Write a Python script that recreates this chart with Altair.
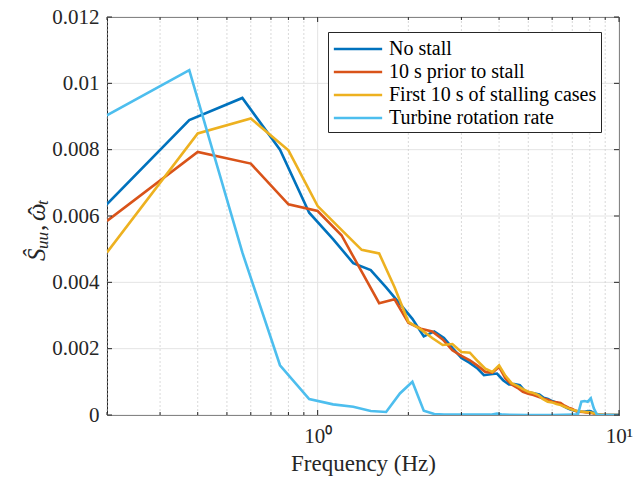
import altair as alt
import pandas as pd

# ---- spectra -------------------------------------------------------------
series_names = [
    "No stall",
    "10 s prior to stall",
    "First 10 s of stalling cases",
    "Turbine rotation rate",
]
series_colors = ["#0072BD", "#D95319", "#EDB120", "#4DBEEE"]

freq_no_stall = [0.1875, 0.375, 0.5625, 0.75, 0.9375, 1.125, 1.3125, 1.5, 1.6875, 1.875,
                 2.0625, 2.25, 2.4375, 2.625, 2.8125, 3.0, 3.1875, 3.375, 3.5625, 3.75,
                 3.9375, 4.125, 4.3125, 4.5, 4.6875, 4.875, 5.0625, 5.25, 5.4375, 5.625,
                 5.8125, 6.0, 6.1875, 6.375, 6.5625, 6.75, 6.9375, 7.125, 7.3125, 7.5,
                 7.6875, 7.875, 8.0625, 8.25, 8.4375, 8.625, 9.375, 10.0]
s_no_stall = [0.0061, 0.00889, 0.00956, 0.0080, 0.0061, 0.0053, 0.00458, 0.00437, 0.00385, 0.00335,
              0.0029, 0.00237, 0.00252, 0.00232, 0.0020, 0.00172, 0.00158, 0.00142, 0.0012, 0.00123,
              0.00125, 0.00105, 0.00092, 0.00093, 0.0009, 0.00072, 0.00068, 0.00065, 0.00062, 0.00052,
              0.00048, 0.00042, 0.00038, 0.00033, 0.00026, 0.0002, 0.00016, 0.00013, 0.00011, 0.0001,
              0.0001, 0.00012, 0.00011, 0.00006, 0.00002, 0.0, 0.0, 0.0]

freq_prior = [0.2, 0.4, 0.6, 0.8, 1.0, 1.2, 1.4, 1.6, 1.8, 2.0, 2.2, 2.4, 2.6, 2.8, 3.0, 3.2,
              3.4, 3.6, 3.8, 4.0, 4.2, 4.4, 4.6, 4.8, 5.0, 5.2, 5.4, 5.6, 5.8, 6.0, 6.2, 6.4,
              6.6, 6.8, 7.0, 7.2, 7.4, 7.6, 7.8, 8.0, 8.2, 8.4, 8.6, 9.0, 10.0]
s_prior = [0.00585, 0.00793, 0.00758, 0.00635, 0.00615, 0.00542, 0.00432, 0.00337, 0.00349, 0.00278,
           0.0026, 0.00252, 0.00228, 0.00195, 0.00178, 0.00165, 0.00148, 0.0013, 0.00128, 0.00145,
           0.0011, 0.00092, 0.00082, 0.0007, 0.00064, 0.0006, 0.00055, 0.0005, 0.00046, 0.0004,
           0.00038, 0.00036, 0.00028, 0.00022, 0.00018, 0.00012, 0.0001, 0.00009, 0.00008, 0.00007,
           0.00005, 0.00003, 0.00001, 0.0, 0.0]

freq_first = [0.2, 0.4, 0.6, 0.8, 1.0, 1.2, 1.4, 1.6, 1.8, 2.0, 2.2, 2.4, 2.6, 2.8, 3.0, 3.2,
              3.4, 3.6, 3.8, 4.0, 4.2, 4.4, 4.6, 4.8, 5.0, 5.2, 5.4, 5.6, 5.8, 6.0, 6.2, 6.4,
              6.6, 6.8, 7.0, 7.2, 7.6, 8.0, 8.4, 8.6, 9.0, 10.0]
s_first = [0.0049, 0.00849, 0.00894, 0.00798, 0.0063, 0.00558, 0.00498, 0.00487, 0.00385, 0.00281,
           0.00258, 0.00232, 0.00211, 0.00214, 0.0019, 0.00188, 0.00162, 0.0014, 0.0013, 0.0015,
           0.00118, 0.00096, 0.00088, 0.00078, 0.0007, 0.00066, 0.0006, 0.00048, 0.0004, 0.00038,
           0.00033, 0.0003, 0.00025, 0.0002, 0.00016, 0.00013, 0.0001, 0.00008, 0.00004, 0.00001,
           0.0, 0.0]

freq_rotation = [0.1875, 0.375, 0.5625, 0.75, 0.9375, 1.125, 1.3125, 1.5, 1.6875, 1.875,
                 2.0625, 2.25, 2.4375, 2.625, 2.8125, 3.375, 3.75, 3.9375, 4.125, 5.0,
                 6.0, 7.125, 7.3125, 7.5, 7.6875, 7.875, 8.0625, 8.25, 8.4375, 8.625, 10.0]
s_rotation = [0.0089, 0.0104, 0.0049, 0.0015, 0.00048, 0.00032, 0.00025, 0.00012, 0.00009, 0.00065,
              0.001, 0.00013, 0.00003, 0.00001, 0.00001, 0.00001, 0.00001, 0.00004, 0.00001, 0.0,
              0.0, 0.00001, 0.00003, 0.0004, 0.00042, 0.0004, 0.0005, 0.0002, 0.00002, 0.0, 0.0]

# ---- axes / grid positions ------------------------------------------------
x_minor = [0.2, 0.3, 0.4, 0.5, 0.6, 0.7, 0.8, 0.9, 2, 3, 4, 5, 6, 7, 8, 9]
x_major = [1, 10]
y_ticks = [0, 0.002, 0.004, 0.006, 0.008, 0.01, 0.012]

W, H = 512, 398
FONT = "Liberation Serif, Times New Roman, serif"
FRAME = "#262626"
TEXT = "#262626"

frames = []
for name, f, s in [
    (series_names[0], freq_no_stall, s_no_stall),
    (series_names[1], freq_prior, s_prior),
    (series_names[2], freq_first, s_first),
    (series_names[3], freq_rotation, s_rotation),
]:
    frames.append(pd.DataFrame({"freq": f, "value": s, "series": name}))
spectra = pd.concat(frames, ignore_index=True)

x_scale = alt.Scale(type="log", domain=[0.2, 10], nice=False)
y_scale = alt.Scale(domain=[0, 0.012], nice=False, zero=False)

x_axis = alt.Axis(
    values=x_major,
    labelExpr="datum.value == 1 ? '10⁰' : (datum.value == 10 ? '10¹' : '')",
    labelFont=FONT, labelFontSize=21, labelColor=TEXT, labelPadding=10,
    labelFlush=False, labelOverlap=False,
    ticks=False, domain=False, grid=False,
    title="Frequency (Hz)", titleFont=FONT, titleFontSize=23,
    titleFontWeight="normal", titleColor=TEXT, titlePadding=6,
)
y_axis = alt.Axis(
    values=y_ticks, format=".3~f",
    labelFont=FONT, labelFontSize=21, labelColor=TEXT, labelPadding=8,
    ticks=False, domain=False, grid=False, title=None,
)

def xenc(field):
    return alt.X(f"{field}:Q", scale=x_scale, axis=x_axis)

def yenc(field):
    return alt.Y(f"{field}:Q", scale=y_scale, axis=y_axis)

ygrid_df = pd.DataFrame({"v": y_ticks})
xminor_df = pd.DataFrame({"v": x_minor})
xmajor_df = pd.DataFrame({"v": x_major})

grid_y = alt.Chart(ygrid_df).mark_rule(color="#e4e4e4", strokeWidth=1).encode(y=yenc("v"))
grid_x_minor = alt.Chart(xminor_df).mark_rule(
    color="#cfcfcf", strokeWidth=0.8, strokeDash=[2, 2]
).encode(x=xenc("v"))
grid_x_major = alt.Chart(xmajor_df).mark_rule(color="#e4e4e4", strokeWidth=1).encode(x=xenc("v"))

color_scale = alt.Scale(domain=series_names, range=series_colors)
legend = alt.Legend(
    title=None, orient="none", legendX=221, legendY=15,
    symbolType="M-2.1,0H2.1", symbolSize=529, symbolStrokeWidth=2.6,
    symbolOffset=13, labelOffset=18, labelLimit=400,
    labelFont=FONT, labelFontSize=20, labelColor="black",
    rowPadding=0, padding=4,
    fillColor="white", strokeColor=FRAME,
)

lines = []
for name in series_names:
    lines.append(
        alt.Chart(spectra)
        .transform_filter(alt.datum.series == name)
        .mark_line(strokeWidth=2.6, clip=True, strokeJoin="miter")
        .encode(
            x=xenc("freq"),
            y=yenc("value"),
            color=alt.Color("series:N", scale=color_scale, legend=legend, sort=series_names),
        )
    )

# inward ticks on all four sides
tick_l = alt.Chart(ygrid_df).mark_rule(color=FRAME).encode(
    y=yenc("v"), x=alt.value(0), x2=alt.value(5))
tick_r = alt.Chart(ygrid_df).mark_rule(color=FRAME).encode(
    y=yenc("v"), x=alt.value(W), x2=alt.value(W - 5))
tick_b_minor = alt.Chart(xminor_df).mark_rule(color=FRAME).encode(
    x=xenc("v"), y=alt.value(H), y2=alt.value(H - 3))
tick_t_minor = alt.Chart(xminor_df).mark_rule(color=FRAME).encode(
    x=xenc("v"), y=alt.value(0), y2=alt.value(3))
tick_b_major = alt.Chart(xmajor_df).mark_rule(color=FRAME).encode(
    x=xenc("v"), y=alt.value(H), y2=alt.value(H - 5))
tick_t_major = alt.Chart(xmajor_df).mark_rule(color=FRAME).encode(
    x=xenc("v"), y=alt.value(0), y2=alt.value(5))

# y-axis title set as math: S-hat with subscript uu, comma, omega-hat with subscript t
def title_piece(text, x, y, size, italic=True):
    return alt.Chart(ygrid_df.head(1)).mark_text(
        text=text, angle=270, align="left", baseline="alphabetic",
        font=FONT, fontSize=size, fontStyle="italic" if italic else "normal",
        color=TEXT,
    ).encode(x=alt.value(x), y=alt.value(y))

y_title = [
    title_piece("Ŝ", -62, 244, 25),
    title_piece("uu", -59, 232, 17),
    title_piece(",", -62, 214, 25, italic=False),
    title_piece("ω", -62, 204, 25),
    title_piece("ˆ", -61, 198, 25, italic=False),
    title_piece("t", -59, 188, 17),
]

chart = alt.layer(
    grid_y, grid_x_minor, grid_x_major,
    *lines,
    tick_l, tick_r, tick_b_minor, tick_t_minor, tick_b_major, tick_t_major,
    *y_title,
).properties(
    width=W, height=H,
    autosize=alt.AutoSizeParams(type="none"),
    padding={"left": 107, "top": 17, "right": 15, "bottom": 70},
    background="white",
).configure_view(
    stroke=FRAME, strokeWidth=1,
)

chart.save("out.html", embed_options={"renderer": "svg", "actions": False})
